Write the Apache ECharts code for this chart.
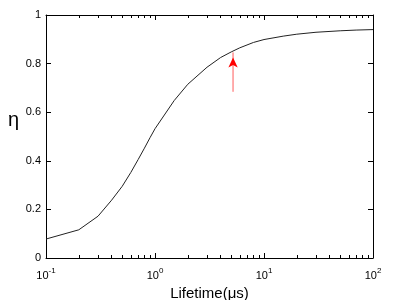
<!DOCTYPE html>
<html><head><meta charset="utf-8">
<script src="https://cdn.jsdelivr.net/npm/echarts@6/dist/echarts.min.js"></script>
<style>html,body{margin:0;padding:0;background:#fff}#c{width:396px;height:300px}</style>
</head><body><div id="c"></div>
<script>
var lifetime = [0.1,0.2,0.3,0.4,0.5,0.6,0.7,0.8,0.9,1,1.5,2,3,4,5,6,8,10,15,20,30,50,70,100];
var eta = [0.078,0.116,0.172,0.238,0.295,0.352,0.405,0.452,0.495,0.532,0.648,0.715,0.785,0.825,0.848,0.865,0.887,0.899,0.913,0.921,0.929,0.935,0.938,0.94];
var arrowX = [5.2, 5.2];
var arrowY = [0.684, 0.846];
var yTicks = [0, 0.2, 0.4, 0.6, 0.8, 1];
var xTickExp = [-1, 0, 1, 2];

var font = 'Liberation Sans, Arial, Helvetica, sans-serif';
var chart = echarts.init(document.getElementById('c'));
function xfmt(v){
  var e = Math.round(Math.log10(v));
  if (xTickExp.indexOf(e) < 0) return '';
  return '{b|10}{s|' + e + '}';
}
var axisLineStyle = {color:'#000', width:1};
var xBase = {
  type:'log', logBase:10, min:0.1, max:100,
  axisLine:{show:true, onZero:false, lineStyle:axisLineStyle},
  axisTick:{show:true, inside:true, length:5, lineStyle:{color:'#000'}},
  minorTick:{show:true, splitNumber:9, length:3, lineStyle:{color:'#000'}},
  splitLine:{show:false}, minorSplitLine:{show:false}
};
var yBase = {
  type:'value', min:0, max:1, interval:0.2,
  axisLine:{show:true, onZero:false, lineStyle:axisLineStyle},
  axisTick:{show:true, inside:true, length:5, lineStyle:{color:'#000'}},
  splitLine:{show:false}
};
chart.setOption({
  animation:false,
  grid:{left:46, right:23, top:15, bottom:42, containLabel:false, outerBoundsMode:'none'},
  xAxis:[
    Object.assign({}, xBase, {
      position:'bottom',
      name:'Lifetime(\u03bcs)', nameLocation:'middle', nameGap:23,
      nameTextStyle:{fontFamily:font, fontSize:15, color:'#000'},
      axisLabel:{show:true, margin:6, formatter:xfmt, color:'#000',
        rich:{
          b:{fontFamily:font, fontSize:11, color:'#000', padding:[6,0,0,0]},
          s:{fontFamily:font, fontSize:8, color:'#000', padding:[0,0,4,0]}
        }}
    }),
    Object.assign({}, xBase, {position:'top', axisLabel:{show:false}})
  ],
  yAxis:[
    Object.assign({}, yBase, {
      position:'left',
      name:'\u03b7', nameLocation:'middle', nameRotate:0, nameGap:27,
      nameTextStyle:{fontFamily:font, fontSize:20, color:'#000', verticalAlign:'bottom', padding:[0,0,6,0]},
      axisLabel:{show:true, margin:5, color:'#000', fontFamily:font, fontSize:11,
        formatter:function(v){ return yTicks.indexOf(+v.toFixed(1))>=0 ? String(+v.toFixed(1)) : ''; }}
    }),
    Object.assign({}, yBase, {position:'right', axisLabel:{show:false}})
  ],
  series:[
    {type:'line', xAxisIndex:0, yAxisIndex:0, showSymbol:false, symbol:'none',
     lineStyle:{color:'#222', width:1},
     data: lifetime.map(function(x,i){return [x, eta[i]];})},
    {type:'line', xAxisIndex:0, yAxisIndex:0, showSymbol:true, showAllSymbol:true,
     lineStyle:{color:'#ff5a5a', width:1},
     itemStyle:{color:'#ff0000'},
     data:[
       {value:[arrowX[0], arrowY[0]], symbol:'none'},
       {value:[arrowX[1], arrowY[1]], symbol:'arrow', symbolSize:[7,10], symbolOffset:[0,5]}
     ]}
  ]
});
</script></body></html>
